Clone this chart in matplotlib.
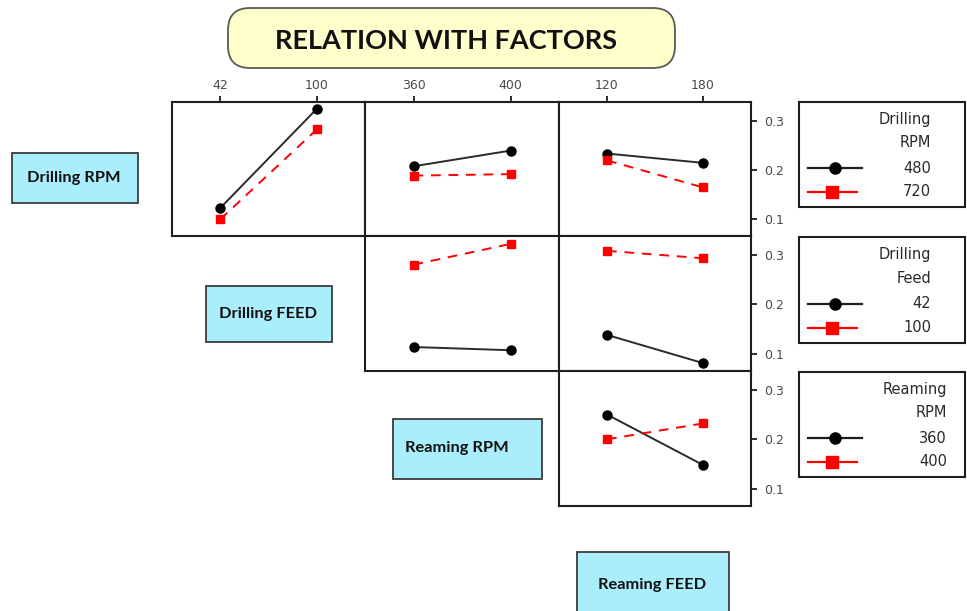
import matplotlib
matplotlib.use('Agg')
import matplotlib.pyplot as plt
from matplotlib.patches import Rectangle, FancyBboxPatch

# ---------------- data ----------------
drill_rpm_levels = ['480', '720']
drill_feed_levels = ['42', '100']
ream_rpm_levels = ['360', '400']
ream_feed_levels = ['120', '180']

# Row 1: Drilling RPM (480 / 720)
rpm480_vs_drill_feed = [0.122, 0.324]
rpm720_vs_drill_feed = [0.099, 0.282]
rpm480_vs_ream_rpm = [0.207, 0.239]
rpm720_vs_ream_rpm = [0.188, 0.191]
rpm480_vs_ream_feed = [0.233, 0.214]
rpm720_vs_ream_feed = [0.219, 0.164]
# Row 2: Drilling Feed (42 / 100)
feed42_vs_ream_rpm = [0.1135, 0.107]
feed100_vs_ream_rpm = [0.280, 0.322]
feed42_vs_ream_feed = [0.138, 0.081]
feed100_vs_ream_feed = [0.308, 0.293]
# Row 3: Reaming RPM (360 / 400)
ream360_vs_ream_feed = [0.250, 0.148]
ream400_vs_ream_feed = [0.200, 0.232]

y_ticks = [0.1, 0.2, 0.3]
title = 'RELATION WITH FACTORS'
factor_names = ['Drilling RPM', 'Drilling FEED', 'Reaming RPM', 'Reaming FEED']
legend_titles = ['Drilling\nRPM', 'Drilling\nFeed', 'Reaming\nRPM']
legend_levels = [drill_rpm_levels, drill_feed_levels, ream_rpm_levels]

# ---------------- layout ----------------
W, H = 967, 611
fig = plt.figure(figsize=(W / 100, H / 100), dpi=100)

bg = fig.add_axes([0, 0, 1, 1], zorder=0)
bg.set_xlim(0, W)
bg.set_ylim(H, 0)
bg.axis('off')


def px_axes(x0, y0, x1, y1, z=2):
    return fig.add_axes([x0 / W, 1 - y1 / H, (x1 - x0) / W, (y1 - y0) / H], zorder=z)


col_x = [172, 365, 559, 751]
row_y = [102, 236, 371, 506]

BLACK = '#1e1e1e'
LINEBLK = '#2a2a2a'
RED = '#ff0000'
TICKCOL = '#4a4a4a'

panels = [
    (0, 0, drill_feed_levels, rpm480_vs_drill_feed, rpm720_vs_drill_feed),
    (0, 1, ream_rpm_levels, rpm480_vs_ream_rpm, rpm720_vs_ream_rpm),
    (0, 2, ream_feed_levels, rpm480_vs_ream_feed, rpm720_vs_ream_feed),
    (1, 1, ream_rpm_levels, feed42_vs_ream_rpm, feed100_vs_ream_rpm),
    (1, 2, ream_feed_levels, feed42_vs_ream_feed, feed100_vs_ream_feed),
    (2, 2, ream_feed_levels, ream360_vs_ream_feed, ream400_vs_ream_feed),
]

for r, c, levels, low, high in panels:
    ax = px_axes(col_x[c], row_y[r], col_x[c + 1], row_y[r + 1])
    xs = list(range(len(levels)))
    ax.plot(xs, low, color=LINEBLK, lw=1.4, marker='o', ms=6.5, mec='black', mfc='black',
            zorder=3, clip_on=False)
    ax.plot(xs, high, color=RED, lw=1.4, ls=(0, (5, 4)), marker='s', ms=6, mec=RED, mfc=RED,
            zorder=3, clip_on=False)
    ax.set_xlim(-0.5, 1.5)
    ax.set_ylim(0.065, 0.338)
    ax.set_xticks(xs)
    ax.set_xticklabels(levels)
    ax.set_yticks(y_ticks)
    ax.set_yticklabels([f'{v:.1f}' for v in y_ticks])
    for s in ax.spines.values():
        s.set_linewidth(1.5)
        s.set_color(BLACK)
    top = (r == 0)
    right = (c == 2)
    ax.tick_params(axis='x', which='both', bottom=False, labelbottom=False,
                   top=top, labeltop=top, direction='out', length=4.5, width=1.3,
                   color=BLACK, labelcolor=TICKCOL, labelsize=9, pad=3)
    ax.tick_params(axis='y', which='both', left=False, labelleft=False,
                   right=right, labelright=right, direction='out', length=4.5, width=1.3,
                   color=BLACK, labelcolor=TICKCOL, labelsize=9, pad=5)

# ---------------- title box ----------------
bg.add_patch(FancyBboxPatch((228, 8), 447, 60, boxstyle='round,pad=0,rounding_size=22',
                            fc='#ffffcc', ec='#5a5a50', lw=1.3, zorder=1))
bg.text(446, 41, title, ha='center', va='center', fontsize=19.5,
        fontfamily=['Lato', 'DejaVu Sans'], fontweight='bold', color='#111111', zorder=2)

# ---------------- factor boxes ----------------
factor_boxes = [(12, 153, 138, 203), (206, 286, 332, 342), (393, 419, 542, 479), (577, 552, 729, 640)]
factor_text_pos = [(74, 178), (268, 314), (457, 448), (652, 585)]
for (x0, y0, x1, y1), (tx, ty), name in zip(factor_boxes, factor_text_pos, factor_names):
    bg.add_patch(Rectangle((x0, y0), x1 - x0, y1 - y0, fc='#aaeefb', ec='#3c3c3c', lw=1.3, zorder=1))
    bg.text(tx, ty, name, ha='center', va='center', fontsize=11.8,
            fontfamily=['Lato', 'DejaVu Sans'], fontweight='bold', color='#111111', zorder=2)

# ---------------- legends ----------------
legend_boxes = [(799, 102, 965, 207), (799, 237, 965, 343), (799, 372, 965, 477)]
legend_text_right = [931, 931, 947]
for (x0, y0, x1, y1), tr, ttl, lv in zip(legend_boxes, legend_text_right, legend_titles, legend_levels):
    bg.add_patch(Rectangle((x0, y0), x1 - x0, y1 - y0, fc='white', ec=BLACK, lw=1.5, zorder=1))
    h = y1 - y0
    t1, t2 = ttl.split('\n')
    ys = [y0 + 0.162 * h, y0 + 0.39 * h, y0 + 0.629 * h, y0 + 0.857 * h]
    kw = dict(ha='right', va='center', fontsize=10.5, color='#2a2a2a', zorder=2)
    bg.text(tr, ys[0], t1, **kw)
    bg.text(tr, ys[1], t2, **kw)
    bg.text(tr, ys[2], lv[0], **kw)
    bg.text(tr, ys[3], lv[1], **kw)
    bg.plot([808, 862], [ys[2], ys[2]], color=BLACK, lw=1.6, zorder=2)
    bg.plot([835], [ys[2]], marker='o', ms=8, color='black', zorder=3)
    bg.plot([808, 857], [ys[3], ys[3]], color=RED, lw=1.6, zorder=2)
    bg.plot([832], [ys[3]], marker='s', ms=8, color=RED, zorder=3)

fig.savefig('out.png', dpi=100)
